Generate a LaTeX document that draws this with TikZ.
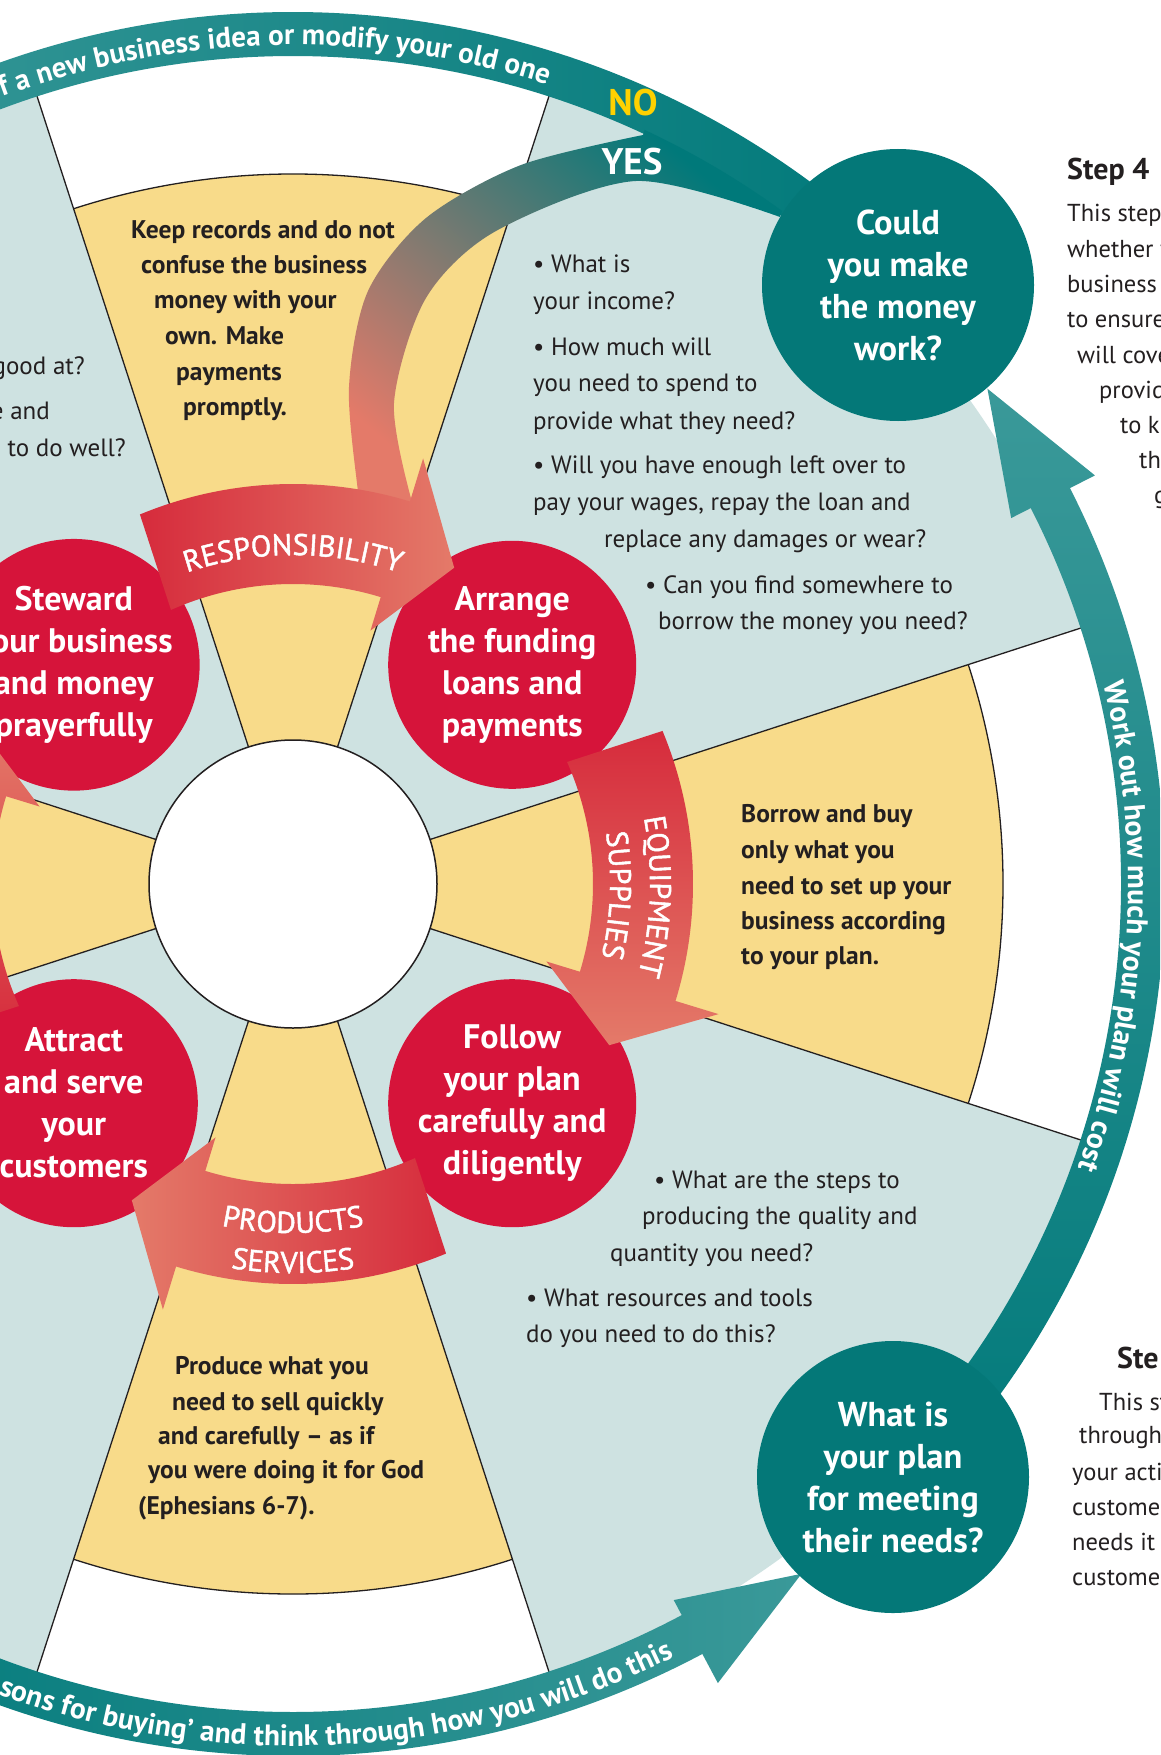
\documentclass[tikz,border=0pt]{standalone}
\usepackage{fontspec}
\setmainfont{PT Sans}
\newfontfamily\labelfont[FakeBold=1.5]{PT Sans}
\usetikzlibrary{decorations.text}

\definecolor{ink}{HTML}{231F20}
\definecolor{pale}{HTML}{CEE2E1}
\definecolor{sand}{HTML}{F8DB8A}
\definecolor{stepred}{HTML}{D6143A}
\definecolor{tealdark}{HTML}{00797A}
\definecolor{teallight}{HTML}{3A9999}
\definecolor{stepteal}{HTML}{047878}
\definecolor{arrowdark}{HTML}{D62B3C}
\definecolor{arrowlight}{HTML}{E47A69}
\definecolor{nogold}{HTML}{FFD100}
\definecolor{yesmid}{HTML}{9C8474}

\tikzset{
  bodyline/.style={anchor=base west, inner sep=0pt, text=ink, font=\fontsize{25}{25}\selectfont},
  boldline/.style={anchor=base west, inner sep=0pt, text=ink, font=\bfseries\fontsize{25.5}{25.5}\selectfont},
  sideline/.style={anchor=base west, inner sep=0pt, text=ink, font=\fontsize{24.5}{24.5}\selectfont},
  steptitle/.style={anchor=base west, inner sep=0pt, text=ink, font=\bfseries\fontsize{30}{30}\selectfont},
  redstep/.style={circle, fill=stepred, minimum size=248pt, inner sep=0pt, align=center, text=white, font=\bfseries\fontsize{34}{42}\selectfont},
  tealstep/.style={circle, fill=stepteal, minimum size=272pt, inner sep=0pt, align=center, text=white, font=\bfseries\fontsize{34.5}{42}\selectfont},
  sectorline/.style={draw=ink, line width=1.3pt},
  answer/.style={font=\bfseries\fontsize{37}{37}\selectfont},
  curvetext/.style n args={3}{decorate, decoration={text along path, text align=#1, text={|\color{white}#2|#3}}},
}

\begin{document}
\begin{tikzpicture}[x=1pt, y=1pt]
\useasboundingbox (0,0) rectangle (1160,-1755);
\clip (0,0) rectangle (1160,-1755);
\fill[white] (0,0) rectangle (1160,-1755);

% the wheel
\begin{scope}[shift={(293,-884)}]
  \fill[pale] (0,0) circle[radius=832];
  \foreach \a in {0,90,180,270} {
    \fill[white] (0,0) -- (\a-18:832) arc[start angle=\a-18, end angle=\a+18, radius=832] -- cycle;
    \fill[sand] (0,0) -- (\a-18:710) arc[start angle=\a-18, end angle=\a+18, radius=710] -- cycle;
    \draw[sectorline] (\a-18:710) arc[start angle=\a-18, end angle=\a+18, radius=710];
    \draw[sectorline] (\a-18:144) -- (\a-18:832);
    \draw[sectorline] (\a+18:144) -- (\a+18:832);
  }
  \node[circle, fill=white, draw=ink, line width=1.5pt, minimum size=288pt, inner sep=0pt] (hub) at (0,0) {};

  % outer teal ring
  \shade[left color=teallight, right color=tealdark] (45:872) arc[start angle=45, end angle=128, radius=872]
    -- (128:828) arc[start angle=128, end angle=45, radius=828] -- cycle;
  \shade[top color=teallight, bottom color=tealdark] (-47:828) arc[start angle=-47, end angle=27, radius=828]
    -- (27:806) -- (35.5:853) -- (27:900) -- (27:872) arc[start angle=27, end angle=-47, radius=872] -- cycle;
  \shade[left color=tealdark, right color=teallight] (-125:872) arc[start angle=-125, end angle=-62, radius=872]
    -- (-62:905) -- (-53.6:857) -- (-62:811) -- (-62:828) arc[start angle=-62, end angle=-125, radius=828] -- cycle;

  % yes path
  \shade[top color=tealdark, middle color=yesmid, bottom color=arrowlight, shading angle=-40]
    (350,749) -- plot[smooth] coordinates {(350,749) (228,719) (133,666) (75,593) (56,497) (65,392) (69,369)}
    -- (107,364) -- plot[smooth] coordinates {(119,382) (101,481) (133,586) (203,653) (343,703) (487,667)}
    -- (54:832) arc[start angle=54, end angle=65, radius=832] -- cycle;

  % red steps
  \foreach \a/\name/\txt in {45/arrange/{Arrange\\the funding\\loans and\\payments},
      135/steward/{Steward\\your business\\and money\\prayerfully},
      225/attract/{Attract\\and serve\\your\\customers},
      315/follow/{Follow\\your plan\\carefully and\\diligently}}
    \node[redstep] (\name) at (\a:310) {\txt};

  % curved arrows between the steps
  \foreach \a in {0,90,180,270}
    \shade[top color=arrowdark, bottom color=arrowlight, shading angle=\a]
      (\a+24:300) arc[start angle=\a+24, end angle=\a-17, radius=300] -- (\a-17:265) -- (\a-27:355)
      -- (\a-17:445) -- (\a-17:400) arc[start angle=\a-17, end angle=\a+22.5, radius=400] -- cycle;

  \path[curvetext={center}{\labelfont\fontsize{30}{30}\selectfont}{RESPONSIBILITY}] (130:329) arc[start angle=130, end angle=50, radius=329];
  \path[curvetext={center}{\labelfont\fontsize{30}{30}\selectfont}{EQUIPMENT}] (40:357) arc[start angle=40, end angle=-44, radius=357];
  \path[curvetext={center}{\labelfont\fontsize{30}{30}\selectfont}{SUPPLIES}] (40:317) arc[start angle=40, end angle=-44, radius=317];
  \path[curvetext={center}{\labelfont\fontsize{30}{30}\selectfont}{PRODUCTS}] (-135:349) arc[start angle=-135, end angle=-45, radius=349];
  \path[curvetext={center}{\labelfont\fontsize{30}{30}\selectfont}{SERVICES}] (-135:389) arc[start angle=-135, end angle=-45, radius=389];

  % ring texts
  \path[curvetext={right}{\bfseries\fontsize{29.1}{29.1}\selectfont}{f a new business idea or modify your old one}] (150:839) arc[start angle=150, end angle=72.4, radius=839];
  \path[curvetext={center}{\bfseries\fontsize{29.5}{29.5}\selectfont}{Work out how much your plan will cost}] (25:835) arc[start angle=25, end angle=-31, radius=835];
  \path[curvetext={right}{\bfseries\fontsize{29.5}{29.5}\selectfont}{sons for buying’ and think through how you will do this}] (-140:862) arc[start angle=-140, end angle=-63.8, radius=862];
\end{scope}

% teal steps
\node[tealstep] (could) at (898,-285) {Could\\you make\\the money\\work?};
\node[tealstep] (plan) at (893,-1477) {What is\\your plan\\for meeting\\their needs?};
\node[answer, text=nogold] (no) at (633,-103) {NO};
\node[answer, text=white] (yes) at (632,-162) {YES};

% questions
\foreach \x/\y/\t [count=\i] in {
    533/272/{\textbullet\ What is},
    533/309/{your income?},
    533/355/{\textbullet\ How much will},
    533/391/{you need to spend to},
    533/429/{provide what they need?},
    533/473/{\textbullet\ Will you have enough left over to},
    533/510/{pay your wages, repay the loan and},
    604/547/{replace any damages or wear?},
    645/593/{\textbullet\ Can you find somewhere to},
    658/629/{borrow the money you need?},
    654/1188/{\textbullet\ What are the steps to},
    642/1224/{producing the quality and},
    610/1261/{quantity you need?},
    526/1306/{\textbullet\ What resources and tools},
    526/1342/{do you need to do this?}}
  \node[bodyline] (q\i) at (\x,-\y) {\t};
\foreach \x/\y/\t [count=\i] in {85/374/{good at?}, 50/419/{e and}, 126/456/{to do well?}}
  \node[bodyline, anchor=base east] (left\i) at (\x,-\y) {\t};

% advice in the yellow sectors
\foreach \x/\y/\t [count=\i] in {131/238/{Keep records and do not}, 141/273/{confuse the business},
    154/308/{money with your}, 165/344/{own. Make}, 176/380/{payments}, 183/415/{promptly.}}
  \node[boldline] (keep\i) at (\x,-\y) {\t};
\foreach \y/\t [count=\i] in {822/{Borrow and buy}, 858/{only what you}, 894/{need to set up your},
    929/{business according}, 964/{to your plan.}}
  \node[boldline] (borrow\i) at (741,-\y) {\t};
\foreach \x/\y/\t [count=\i] in {175/1374/{Produce what you}, 172/1410/{need to sell quickly},
    158/1444/{and carefully – as if}, 148/1478/{you were doing it for God}, 138/1514/{(Ephesians 6-7).}}
  \node[boldline] (produce\i) at (\x,-\y) {\t};

% side notes
\node[steptitle] (stepfour) at (1067,-180) {Step 4};
\foreach \x/\y/\t [count=\i] in {1067/222/{This step}, 1067/257/{whether y}, 1067/292/{business},
    1067/327/{to ensure}, 1077/363/{will cove}, 1099/398/{provid}, 1120/433/{to k}, 1139/468/{th}, 1154/503/{g}}
  \node[sideline] (side\i) at (\x,-\y) {\t};
\node[steptitle] (stepthree) at (1117,-1368) {Ste};
\foreach \x/\y/\t [count=\i] in {1099/1410/{This st}, 1079/1443/{through}, 1072/1480/{your acti},
    1072/1515/{custome}, 1072/1550/{needs it}, 1072/1585/{custome}}
  \node[sideline] (low\i) at (\x,-\y) {\t};
\end{tikzpicture}
\end{document}
